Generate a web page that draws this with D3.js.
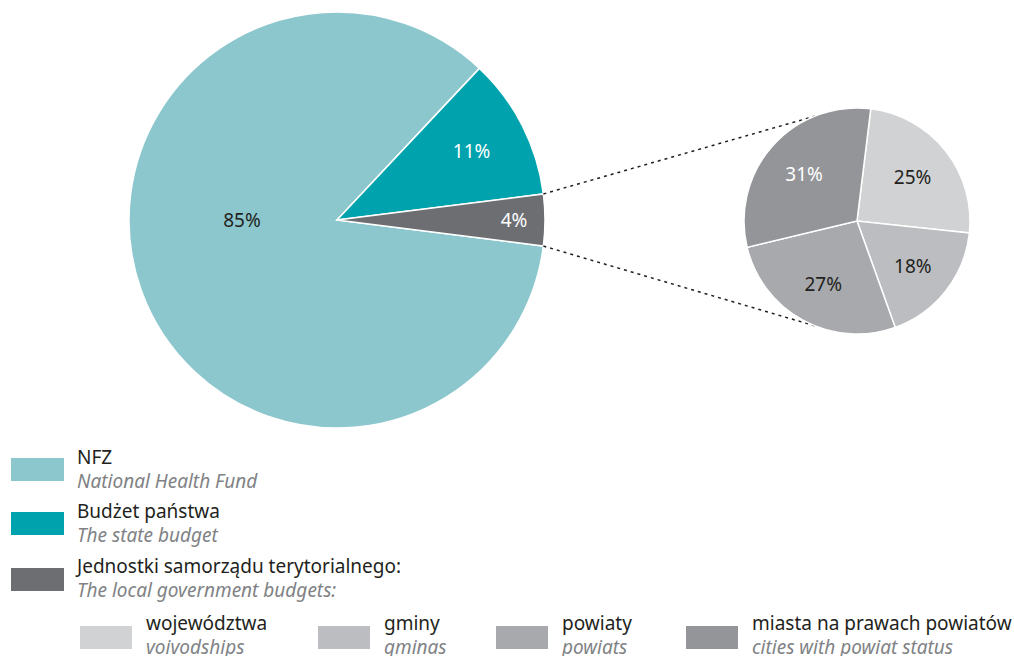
<!DOCTYPE html>
<html>
<head>
<meta charset="utf-8">
<script src="https://cdn.jsdelivr.net/npm/d3@7"></script>
<style>
  html, body { margin: 0; padding: 0; background: #fff; }
  svg { display: block; }
  text { font-family: "Noto Sans", sans-serif; }
</style>
</head>
<body>
<svg id="chart" width="1014" height="656"></svg>
<script>
// ---- data ----
const mainCategories = ["NFZ", "Budżet państwa", "Jednostki samorządu terytorialnego:"];
const mainCategoriesEn = ["National Health Fund", "The state budget", "The local government budgets:"];
const mainValues = [85, 11, 4];
const mainLabels = ["85%", "11%", "4%"];

const subCategories = ["województwa", "gminy", "powiaty", "miasta na prawach powiatów"];
const subCategoriesEn = ["voivodships", "gminas", "powiats", "cities with powiat status"];
const subValues = [25, 18, 27, 31];
const subLabels = ["25%", "18%", "27%", "31%"];

// ---- styles / layout ----
const mainColors = ["#8cc7ce", "#00a3ad", "#6d6e72"];
const mainTextColors = ["#231f20", "#ffffff", "#ffffff"];
const subColors = ["#d1d2d4", "#bcbdc0", "#a7a9ac", "#939598"];
const subTextColors = ["#231f20", "#231f20", "#231f20", "#ffffff"];
const deg = Math.PI / 180;

const svg = d3.select("#chart");

// main pie
const mainCx = 337, mainCy = 220, mainR = 208;
const total = d3.sum(mainValues);
const jstShare = mainValues[2] / total;
const mainEnd = Math.PI / 2 + jstShare * Math.PI;   // JST centered at 3 o'clock
const mainPie = d3.pie().sort(null).value(d => d)
  .startAngle(mainEnd - 2 * Math.PI).endAngle(mainEnd);
const mainArcs = mainPie(mainValues);
const mainArc = d3.arc().innerRadius(0).outerRadius(mainR);

const gMain = svg.append("g").attr("transform", `translate(${mainCx},${mainCy})`);
gMain.selectAll("path").data(mainArcs).join("path")
  .attr("d", mainArc)
  .attr("fill", (d, i) => mainColors[i])
  .attr("stroke", "#fff").attr("stroke-width", 1.5);

// label placement (angle, radius) for each main slice
const mainLabelPos = [
  { a: 270 * deg, r: 95 },
  { a: null, r: 151 },
  { a: null, r: 177 }
];
gMain.selectAll("text").data(mainArcs).join("text")
  .attr("transform", (d, i) => {
    const p = mainLabelPos[i];
    const a = p.a !== null ? p.a : (d.startAngle + d.endAngle) / 2;
    return `translate(${p.r * Math.sin(a)},${-p.r * Math.cos(a)})`;
  })
  .attr("text-anchor", "middle").attr("dy", "0.36em")
  .attr("font-size", 19)
  .attr("fill", (d, i) => mainTextColors[i])
  .text((d, i) => mainLabels[i]);

// sub pie
const subCx = 857, subCy = 221, subR = 113;
const subPie = d3.pie().sort(null).value(d => d)
  .startAngle(7 * deg).endAngle(7 * deg + 2 * Math.PI);
const subArcs = subPie(subValues);
const subArc = d3.arc().innerRadius(0).outerRadius(subR);
const subLabelArc = d3.arc().innerRadius(71).outerRadius(71);

// connectors
const jst = mainArcs[2];
const connectors = [
  { a1: jst.startAngle, a2: -22 * deg },
  { a1: jst.endAngle, a2: 202 * deg }
];
svg.append("g").selectAll("line").data(connectors).join("line")
  .attr("x1", d => mainCx + mainR * Math.sin(d.a1))
  .attr("y1", d => mainCy - mainR * Math.cos(d.a1))
  .attr("x2", d => subCx + subR * Math.sin(d.a2))
  .attr("y2", d => subCy - subR * Math.cos(d.a2))
  .attr("stroke", "#231f20").attr("stroke-width", 1.5)
  .attr("stroke-dasharray", "3,4");

const gSub = svg.append("g").attr("transform", `translate(${subCx},${subCy})`);
gSub.selectAll("path").data(subArcs).join("path")
  .attr("d", subArc)
  .attr("fill", (d, i) => subColors[i])
  .attr("stroke", "#fff").attr("stroke-width", 1.5);
gSub.selectAll("text").data(subArcs).join("text")
  .attr("transform", d => `translate(${subLabelArc.centroid(d)})`)
  .attr("text-anchor", "middle").attr("dy", "0.4em")
  .attr("font-size", 19)
  .attr("fill", (d, i) => subTextColors[i])
  .text((d, i) => subLabels[i]);

// legend - main
const legendTops = [458, 512, 568];
const gLeg = svg.append("g");
mainCategories.forEach((c, i) => {
  const y = legendTops[i];
  gLeg.append("rect").attr("x", 11).attr("y", y).attr("width", 53).attr("height", 23)
    .attr("fill", mainColors[i]);
  gLeg.append("text").attr("x", 77).attr("y", y + 6 + (i === 2 ? -1 : 0))
    .attr("font-size", 19).attr("fill", "#231f20").text(c);
  gLeg.append("text").attr("x", 77).attr("y", y + 30 + (i === 2 ? -1 : 0))
    .attr("font-size", 19).attr("font-style", "italic").attr("fill", "#808285")
    .text(mainCategoriesEn[i]);
});

// legend - sub
const subLegX = [80, 318, 496, 686];
subCategories.forEach((c, i) => {
  const x = subLegX[i];
  gLeg.append("rect").attr("x", x).attr("y", 626).attr("width", 52).attr("height", 23)
    .attr("fill", subColors[i]);
  gLeg.append("text").attr("x", x + 66).attr("y", 630)
    .attr("font-size", 19).attr("fill", "#231f20").text(c);
  gLeg.append("text").attr("x", x + 66).attr("y", 654)
    .attr("font-size", 19).attr("font-style", "italic").attr("fill", "#808285")
    .text(subCategoriesEn[i]);
});
</script>
</body>
</html>
